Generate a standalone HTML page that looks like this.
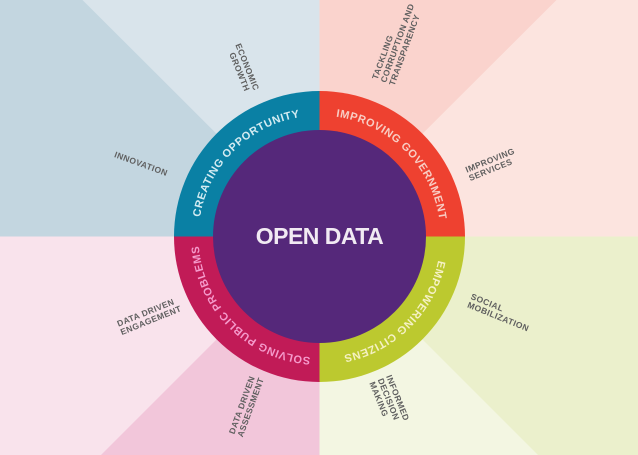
<!DOCTYPE html>
<html><head><meta charset="utf-8"><style>
html,body{margin:0;padding:0;width:638px;height:455px;overflow:hidden;background:#fff}
svg{display:block}
.lbl{font-family:"Liberation Sans",sans-serif;font-size:8.5px;font-weight:bold;fill:#5f5f5f;letter-spacing:0.4px}
.ring{font-family:"Liberation Sans",sans-serif;font-size:11px;font-weight:bold;letter-spacing:0.6px}
</style></head><body>
<svg width="638" height="455" viewBox="0 0 638 455" xmlns="http://www.w3.org/2000/svg">
<rect x="0" y="0" width="319.5" height="236.5" fill="#c3d6e0"/>
<polygon points="82.5,0 319.5,0 319.5,236.5" fill="#d9e4eb"/>
<rect x="319.5" y="0" width="318.5" height="236.5" fill="#fce4df"/>
<polygon points="319.5,0 556.5,0 319.5,236.5" fill="#fad3cd"/>
<rect x="319.5" y="236.5" width="318.5" height="218.5" fill="#ebf0cc"/>
<polygon points="319.5,236.5 538,455 319.5,455" fill="#f3f6e2"/>
<rect x="0" y="236.5" width="319.5" height="218.5" fill="#f9e3ec"/>
<polygon points="319.5,236.5 101,455 319.5,455" fill="#f2c6da"/>
<path d="M319.5,236.5 L174,236.5 A145.5,145.5 0 0 1 319.5,91 Z" fill="#0a80a4"/>
<path d="M319.5,236.5 L319.5,91 A145.5,145.5 0 0 1 465,236.5 Z" fill="#ee4130"/>
<path d="M319.5,236.5 L465,236.5 A145.5,145.5 0 0 1 319.5,382 Z" fill="#bcc92f"/>
<path d="M319.5,236.5 L319.5,382 A145.5,145.5 0 0 1 174,236.5 Z" fill="#c11b57"/>
<circle cx="319.5" cy="236.5" r="106.5" fill="#55287a"/>
<defs>
<path id="cp" d="M198.5,236.5 A121,121 0 1 1 440.5,236.5 A121,121 0 1 1 198.5,236.5"/>
</defs>
<text class="ring" fill="#d4ecf2"><textPath href="#cp" startOffset="12.5%" text-anchor="middle">CREATING OPPORTUNITY</textPath></text>
<text class="ring" fill="#f8cdc4"><textPath href="#cp" startOffset="37.5%" text-anchor="middle">IMPROVING GOVERNMENT</textPath></text>
<text class="ring" fill="#f5f1c4"><textPath href="#cp" startOffset="62.5%" text-anchor="middle">EMPOWERING CITIZENS</textPath></text>
<text class="ring" fill="#f59acb" font-weight="normal"><textPath href="#cp" startOffset="87.5%" text-anchor="middle">SOLVING PUBLIC PROBLEMS</textPath></text>
<text x="319.5" y="244" text-anchor="middle" font-family="Liberation Sans,sans-serif" font-weight="bold" font-size="23" fill="#f1eaf3" letter-spacing="-0.5">OPEN DATA</text>
<g class="lbl">
<g transform="translate(242,67) rotate(68)"><text x="-23" y="-2">ECONOMIC</text><text x="-17" y="7">GROWTH</text></g>
<g transform="translate(394,52) rotate(-70)"><text x="-32" y="-6">TACKLING</text><text x="-32" y="3">CORRUPTION AND</text><text x="-32" y="12">TRANSPARENCY</text></g>
<g transform="translate(142,164) rotate(20)"><text x="-29" y="3">INNOVATION</text></g>
<g transform="translate(489,166) rotate(-22)"><text x="-23" y="-2">IMPROVING</text><text x="-23" y="7">SERVICES</text></g>
<g transform="translate(495,312) rotate(22)"><text x="-28" y="-3">SOCIAL</text><text x="-28" y="6">MOBILIZATION</text></g>
<g transform="translate(148,317) rotate(-22)"><text x="-31" y="-2">DATA DRIVEN</text><text x="-31" y="7">ENGAGEMENT</text></g>
<g transform="translate(246,408) rotate(-70)"><text x="-29" y="-2">DATA DRIVEN</text><text x="-29" y="7">ASSESSMENT</text></g>
<g transform="translate(389,400) rotate(68)"><text x="-23" y="-6">INFORMED</text><text x="-23" y="3">DECISION</text><text x="-23" y="12">MAKING</text></g>
</g>
</svg>
</body></html>
